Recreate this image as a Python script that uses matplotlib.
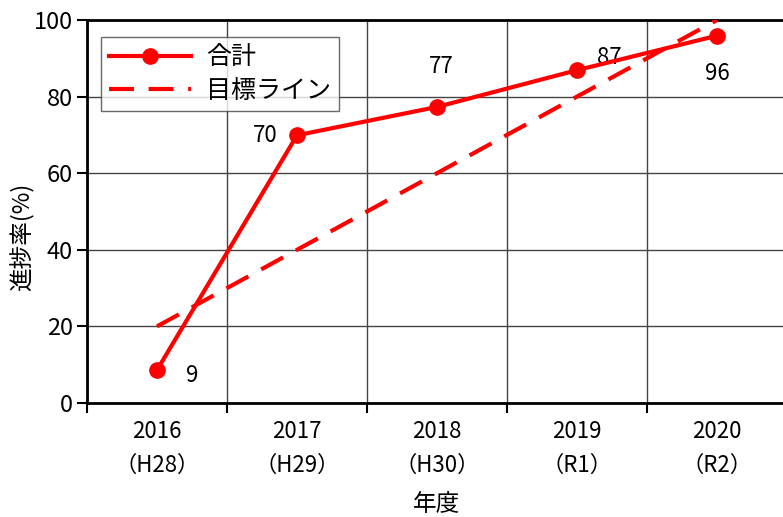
import matplotlib
matplotlib.use("Agg")
import matplotlib.pyplot as plt

plt.rcParams['font.family'] = ['Noto Sans CJK JP', 'DejaVu Sans']

years = ['2016', '2017', '2018', '2019', '2020']
eras = ['H28', 'H29', 'H30', 'R1', 'R2']
total = [8.6, 69.9, 77.3, 86.9, 95.9]
target = [20, 40, 60, 80, 100]
# label offsets in points (manual placement like the original)
label_offsets = [(25, -4), (-23, 0), (3, 29), (23, 9), (0, -27)]

fig = plt.figure(figsize=(7.83, 5.17), dpi=100)
ax = fig.add_axes([87 / 783, 114 / 517, 700 / 783, 383 / 517])

x = list(range(len(years)))
ax.plot(x, total, color='#ff0000', lw=3, marker='o', ms=11, label='合計', zorder=4)
ax.plot(x, target, color='#ff0000', lw=3, dashes=(6, 3.5), label='目標ライン', zorder=3)

for xi, v, off in zip(x, total, label_offsets):
    ax.annotate(f'{v:.0f}', (xi, v), xytext=off, textcoords='offset points',
                ha='center', va='center', fontsize=16, color='black')

ax.set_xlim(-0.5, 4.5)
ax.set_ylim(0, 100)
ax.set_yticks(range(0, 101, 20))
ax.set_xticks([i - 0.5 for i in range(len(years) + 1)])
ax.set_xticklabels([])
ax.set_xticks(x, minor=True)
ax.set_xticklabels([f'{y}\n（{e}）' for y, e in zip(years, eras)], minor=True)
ax.tick_params(axis='x', which='minor', length=0, pad=12, labelsize=16)
ax.tick_params(axis='x', which='major', length=7, width=1.5, direction='out')
ax.tick_params(axis='y', length=7, width=1.5, labelsize=17, pad=3)
for lbl in ax.get_xticklabels(minor=True):
    lbl.set_linespacing(1.6)

ax.grid(True, which='major', color='#444444', lw=1)
ax.set_axisbelow(True)
for s in ['left', 'bottom', 'top']:
    ax.spines[s].set_linewidth(2)
ax.spines['right'].set_visible(False)

ax.set_ylabel('進捗率(%)', fontsize=17, va='center', ha='center')
ax.yaxis.set_label_coords(-0.093, 0.433)
ax.set_xlabel('年度', fontsize=17, va='center', ha='center')
ax.xaxis.set_label_coords(0.5, -0.264)

leg = ax.legend(loc='upper left', bbox_to_anchor=(0.02, 0.956), borderaxespad=0,
                fontsize=18, frameon=True, fancybox=False, edgecolor='#444444',
                handlelength=3.3, borderpad=0.3, labelspacing=0.3, handletextpad=0.6)
leg.get_frame().set_linewidth(1)

fig.savefig('out.png', dpi=100)
